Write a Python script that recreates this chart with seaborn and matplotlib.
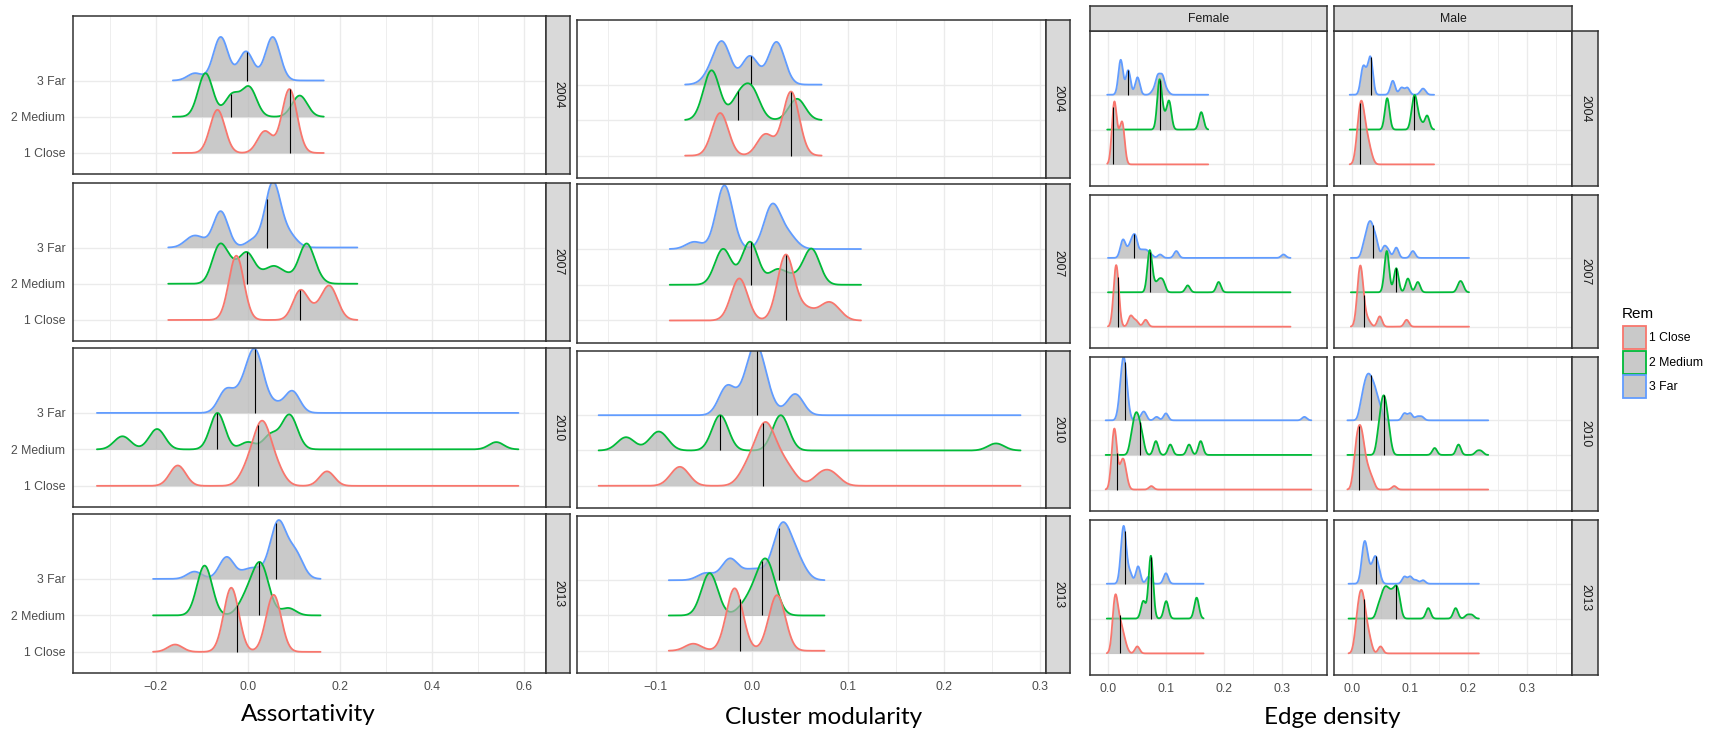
import numpy as np
import matplotlib
matplotlib.use("Agg")
import matplotlib.pyplot as plt
from matplotlib.patches import Rectangle
import seaborn as sns

# ----------------------------------------------------------------- data
GROUPS = ["1 Close", "2 Medium", "3 Far"]
YEARS = ["2004", "2007", "2010", "2013"]
SEXES = ["Female", "Male"]
LEGEND_TITLE = "Rem"
X_TITLES = ["Assortativity", "Cluster modularity", "Edge density"]

# samples per ridge: (value, number of networks with about that value)
ASSORT_2004 = {
    "1 Close": [(-0.068, 3), (-0.064, 3), (0.037, 3), (0.086, 2), (0.089, 2), (0.091, 2), (0.093, 2), (0.097, 1)],
    "2 Medium": [(-0.092, 6), (-0.034, 3), (0.003, 4), (0.108, 1), (0.113, 1), (0.117, 1)],
    "3 Far": [(-0.115, 1), (-0.059, 6), (-0.004, 4), (0.054, 6)],
}
ASSORT_2007 = {
    "1 Close": [(-0.030, 1), (-0.028, 1), (-0.026, 1), (-0.025, 3), (-0.024, 1), (-0.022, 1), (-0.020, 1),
                (0.114, 4), (0.145, 1), (0.172, 2), (0.178, 2), (0.190, 1)],
    "2 Medium": [(-0.062, 5), (-0.035, 2), (-0.002, 4), (0.030, 1), (0.057, 2), (0.085, 1), (0.126, 5), (0.145, 1)],
    "3 Far": [(-0.125, 1), (-0.105, 1), (-0.059, 5), (0.012, 1), (0.050, 4), (0.054, 1), (0.058, 4),
              (0.080, 1), (0.095, 1)],
}
ASSORT_2010 = {
    "1 Close": [(-0.160, 1), (-0.152, 1), (-0.145, 1), (-0.008, 1), (0.004, 1), (0.013, 1), (0.019, 1),
                (0.024, 1), (0.028, 1), (0.031, 2), (0.034, 1), (0.038, 1), (0.043, 1), (0.049, 1),
                (0.058, 1), (0.070, 1), (0.170, 1), (0.174, 1)],
    "2 Medium": [(-0.280, 1), (-0.265, 1), (-0.205, 1), (-0.197, 1), (-0.190, 1), (-0.066, 5), (0.000, 1),
                 (0.050, 2), (0.085, 2), (0.092, 2), (0.100, 1), (0.540, 1)],
    "3 Far": [(-0.050, 2), (-0.045, 1), (-0.022, 1), (-0.012, 1), (-0.003, 1), (0.004, 1), (0.010, 1),
              (0.014, 2), (0.017, 2), (0.020, 1), (0.026, 1), (0.034, 1), (0.060, 1), (0.095, 2), (0.100, 1)],
}
ASSORT_2013 = {
    "1 Close": [(-0.158, 1), (-0.042, 1), (-0.040, 1), (-0.038, 1), (-0.036, 3), (-0.034, 1), (-0.032, 1),
                (-0.030, 1), (0.050, 1), (0.053, 1), (0.055, 2), (0.057, 2), (0.059, 1), (0.062, 1)],
    "2 Medium": [(-0.100, 1), (-0.097, 1), (-0.095, 1), (-0.094, 1), (-0.093, 1), (-0.091, 1), (-0.088, 1),
                 (-0.010, 1), (0.000, 1), (0.010, 1), (0.018, 1), (0.024, 1), (0.028, 2), (0.031, 1),
                 (0.034, 1), (0.040, 1), (0.088, 1)],
    "3 Far": [(-0.116, 1), (-0.046, 3), (-0.002, 1), (0.022, 1), (0.055, 1), (0.060, 1), (0.063, 1),
              (0.066, 3), (0.070, 1), (0.075, 1), (0.090, 1), (0.100, 1), (0.105, 1), (0.110, 1)],
}
# vertical marker value per ridge, order 1 Close, 2 Medium, 3 Far
ASSORT_MARK = {"2004": [0.091, -0.037, -0.002], "2007": [0.114, -0.002, 0.041],
               "2010": [0.022, -0.066, 0.016], "2013": [-0.023, 0.025, 0.061]}

CLUSTER_2004 = {
    "1 Close": [(-0.033, 6), (0.014, 3), (0.0407, 9)],
    "2 Medium": [(-0.042, 7), (-0.0135, 3), (0.000, 4), (0.047, 3)],
    "3 Far": [(-0.044, 1), (-0.036, 1), (-0.030, 5), (-0.002, 4), (0.0256, 6)],
}
CLUSTER_2007 = {
    "1 Close": [(-0.017, 1), (-0.0124, 5), (0.035, 9), (0.050, 1), (0.060, 1), (0.076, 1), (0.080, 1), (0.088, 1)],
    "2 Medium": [(-0.030, 5), (-0.002, 6), (0.026, 2), (0.042, 1), (0.062, 5)],
    "3 Far": [(-0.060, 1), (-0.029, 8), (-0.025, 1), (0.021, 6), (0.035, 1), (0.040, 1)],
}
CLUSTER_2010 = {
    "1 Close": [(-0.080, 1), (-0.075, 1), (-0.070, 1), (-0.008, 1), (-0.003, 1), (0.002, 1), (0.006, 1),
                (0.009, 1), (0.012, 1), (0.014, 3), (0.016, 1), (0.019, 1), (0.022, 1), (0.026, 1),
                (0.030, 1), (0.035, 1), (0.042, 1), (0.070, 1), (0.078, 1), (0.086, 1)],
    "2 Medium": [(-0.134, 1), (-0.128, 1), (-0.102, 1), (-0.097, 1), (-0.092, 1), (-0.033, 5), (0.030, 5), (0.254, 1)],
    "3 Far": [(-0.026, 4), (-0.010, 1), (-0.005, 1), (-0.002, 1), (0.001, 1), (0.003, 1), (0.004, 3),
              (0.005, 1), (0.007, 1), (0.010, 1), (0.013, 1), (0.018, 1), (0.045, 3)],
}
CLUSTER_2013 = {
    "1 Close": [(-0.061, 1), (-0.021, 1), (-0.019, 2), (-0.018, 3), (-0.017, 2), (-0.015, 1),
                (0.024, 1), (0.025, 2), (0.026, 2), (0.027, 2), (0.029, 1)],
    "2 Medium": [(-0.044, 6), (-0.008, 1), (0.000, 1), (0.005, 1), (0.009, 1), (0.012, 1), (0.014, 1),
                 (0.015, 2), (0.017, 1), (0.019, 1), (0.022, 1)],
    "3 Far": [(-0.048, 1), (-0.023, 3), (-0.004, 1), (0.008, 1), (0.025, 1), (0.028, 1), (0.030, 1),
              (0.0314, 3), (0.034, 1), (0.037, 1), (0.042, 1), (0.047, 1), (0.050, 1)],
}
CLUSTER_MARK = {"2004": [0.0407, -0.014, -0.001], "2007": [0.035, -0.001, -0.007],
                "2010": [0.0114, -0.033, 0.0055], "2013": [-0.0128, 0.0107, 0.028]}

EDGE_F_2004 = {
    "1 Close": [(0.0107, 17), (0.018, 5), (0.025, 11)],
    "2 Medium": [(0.089, 14), (0.097, 3), (0.1055, 8), (0.161, 5)],
    "3 Far": [(0.022, 10), (0.035, 7), (0.051, 5), (0.078, 1), (0.086, 5), (0.094, 5), (0.102, 1)],
}
EDGE_M_2004 = {
    "1 Close": [(0.008, 3), (0.012, 7), (0.016, 9), (0.020, 7), (0.025, 5), (0.030, 3), (0.035, 1)],
    "2 Medium": [(0.0604, 9), (0.105, 6), (0.110, 6), (0.118, 2), (0.129, 4)],
    "3 Far": [(0.0185, 7), (0.025, 4), (0.032, 10), (0.070, 4), (0.085, 2), (0.095, 2), (0.120, 1), (0.124, 1)],
}
EDGE_F_2007 = {
    "1 Close": [(0.012, 7), (0.0145, 8), (0.017, 5), (0.039, 3), (0.046, 1), (0.050, 1), (0.065, 2)],
    "2 Medium": [(0.072, 12), (0.080, 2), (0.088, 3), (0.095, 3), (0.1376, 2), (0.191, 3)],
    "3 Far": [(0.024, 3), (0.028, 3), (0.036, 2), (0.042, 4), (0.048, 5), (0.058, 2), (0.066, 2),
              (0.074, 1), (0.090, 1), (0.118, 2), (0.303, 1)],
}
EDGE_M_2007 = {
    "1 Close": [(0.010, 5), (0.014, 11), (0.018, 6), (0.024, 2), (0.030, 1), (0.0476, 3), (0.0938, 2)],
    "2 Medium": [(0.0597, 12), (0.076, 7), (0.096, 4), (0.113, 3), (0.184, 2), (0.189, 2)],
    "3 Far": [(0.020, 3), (0.026, 5), (0.031, 6), (0.036, 5), (0.042, 4), (0.055, 3), (0.062, 2),
              (0.076, 3), (0.1045, 2)],
}
EDGE_F_2010 = {
    "1 Close": [(0.008, 5), (0.011, 10), (0.014, 5), (0.022, 4), (0.027, 6), (0.032, 2), (0.0748, 1)],
    "2 Medium": [(0.040, 3), (0.045, 6), (0.050, 7), (0.055, 5), (0.060, 3), (0.0827, 4), (0.1076, 3),
                 (0.140, 3), (0.160, 4)],
    "3 Far": [(0.020, 3), (0.024, 6), (0.027, 8), (0.030, 6), (0.034, 3), (0.058, 1), (0.063, 2),
              (0.084, 1), (0.100, 2), (0.339, 1)],
}
EDGE_M_2010 = {
    "1 Close": [(0.004, 4), (0.008, 7), (0.012, 8), (0.016, 8), (0.020, 6), (0.025, 4), (0.030, 3),
                (0.036, 2), (0.0725, 1)],
    "2 Medium": [(0.045, 4), (0.050, 8), (0.055, 10), (0.060, 7), (0.065, 3), (0.142, 2), (0.183, 3),
                 (0.215, 1), (0.222, 1)],
    "3 Far": [(0.015, 3), (0.020, 5), (0.025, 7), (0.030, 7), (0.035, 6), (0.040, 5), (0.045, 3),
              (0.050, 2), (0.090, 2), (0.100, 2), (0.112, 1), (0.120, 1)],
}
EDGE_F_2013 = {
    "1 Close": [(0.010, 6), (0.013, 9), (0.017, 5), (0.022, 5), (0.027, 3), (0.032, 1), (0.0506, 2)],
    "2 Medium": [(0.061, 5), (0.074, 18), (0.1005, 5), (0.153, 6)],
    "3 Far": [(0.024, 5), (0.027, 9), (0.030, 5), (0.038, 3), (0.052, 5), (0.070, 2), (0.100, 3)],
}
EDGE_M_2013 = {
    "1 Close": [(0.006, 3), (0.010, 6), (0.014, 8), (0.018, 8), (0.022, 6), (0.027, 4), (0.032, 2), (0.049, 2)],
    "2 Medium": [(0.045, 3), (0.052, 5), (0.058, 6), (0.064, 5), (0.070, 5), (0.076, 6), (0.081, 4),
                 (0.131, 3), (0.178, 3), (0.198, 1), (0.206, 1)],
    "3 Far": [(0.018, 4), (0.022, 8), (0.027, 4), (0.034, 3), (0.040, 6), (0.046, 3), (0.090, 2),
              (0.100, 2), (0.110, 1), (0.122, 1)],
}
EDGE_F_MARK = {"2004": [0.0093, 0.090, 0.035], "2007": [0.0171, 0.0734, 0.045],
               "2010": [0.0164, 0.0556, 0.0292], "2013": [0.020, 0.0748, 0.0292]}
EDGE_M_MARK = {"2004": [0.0142, 0.1066, 0.032], "2007": [0.0206, 0.076, 0.0355],
               "2010": [0.0121, 0.0547, 0.032], "2013": [0.0206, 0.076, 0.0405]}

ASSORT = dict(zip(YEARS, [ASSORT_2004, ASSORT_2007, ASSORT_2010, ASSORT_2013]))
CLUSTER = dict(zip(YEARS, [CLUSTER_2004, CLUSTER_2007, CLUSTER_2010, CLUSTER_2013]))
EDGE_F = dict(zip(YEARS, [EDGE_F_2004, EDGE_F_2007, EDGE_F_2010, EDGE_F_2013]))
EDGE_M = dict(zip(YEARS, [EDGE_M_2004, EDGE_M_2007, EDGE_M_2010, EDGE_M_2013]))

ASSORT_TICKS = [-0.2, 0.0, 0.2, 0.4, 0.6]
CLUSTER_TICKS = [-0.1, 0.0, 0.1, 0.2, 0.3]
EDGE_TICKS = [0.0, 0.1, 0.2, 0.3]

# ----------------------------------------------------------------- style
W, H = 1719, 735
REM_COLORS = ["#F8766D", "#00BA38", "#619CFF"]
FILL = "#B3B3B3"
GRID = "#EBEBEB"
DARK = "#333333"

sns.set_theme(style="white")
plt.rcParams["font.family"] = ["Liberation Sans", "DejaVu Sans"]

fig = plt.figure(figsize=(W / 100, H / 100), dpi=100)
fig.patch.set_facecolor("white")


def rect(x0, y0, x1, y1):
    return [x0 / W, 1 - y1 / H, (x1 - x0) / W, (y1 - y0) / H]


def heights(grid, pairs, bw, unit):
    v = np.array([p[0] for p in pairs], float)
    c = np.array([p[1] for p in pairs], float)
    z = (grid[:, None] - v[None, :]) / bw
    return unit * (np.exp(-0.5 * z * z) @ c)


def draw_ridges(ax, panel, marks, bw, unit):
    allv = [p[0] for g in GROUPS for p in panel[g]]
    grid = np.linspace(min(allv) - 3 * bw, max(allv) + 3 * bw, 512)
    for i in (2, 1, 0):
        g = GROUPS[i]
        base = i + 1
        z = 2 + (2 - i)
        h = heights(grid, panel[g], bw, unit)
        ax.fill_between(grid, base, base + h, facecolor=FILL, alpha=0.7, linewidth=0, zorder=z)
        sns.lineplot(x=grid, y=base + h, ax=ax, color=REM_COLORS[i], linewidth=1.3,
                     sort=False, estimator=None, zorder=z + 0.1, legend=False)
        m = marks[i]
        ax.plot([m, m], [base, base + np.interp(m, grid, h)], color="black",
                linewidth=0.8, zorder=z + 0.2, solid_capstyle="butt")


def fmt(t):
    s = f"{t:.1f}"
    return s.replace("-", "\u2212")


def style(ax, xlim, ylim, ticks, minor, show_x, ylabels, yticks):
    ax.set_xlim(xlim)
    ax.set_ylim(ylim)
    ax.set_xticks(ticks)
    ax.set_xticks(minor, minor=True)
    ax.set_yticks([1, 2, 3])
    ax.set_axisbelow(True)
    ax.grid(which="major", color=GRID, linewidth=1.0)
    ax.grid(which="minor", axis="x", color=GRID, linewidth=0.6)
    for s in ax.spines.values():
        s.set_color(DARK)
        s.set_linewidth(1.1)
    ax.tick_params(which="minor", length=0)
    ax.tick_params(axis="x", which="major", length=4 if show_x else 0, width=0.9, color=DARK,
                   labelbottom=show_x, labelcolor="#4D4D4D", labelsize=8.8, pad=2)
    ax.tick_params(axis="y", which="major", length=4 if yticks else 0, width=0.9, color=DARK,
                   labelleft=ylabels, labelcolor="#4D4D4D", labelsize=8.8, pad=1.5)
    if show_x:
        ax.set_xticklabels([fmt(t) for t in ticks])
    if ylabels:
        ax.set_yticklabels(GROUPS)
    ax.set_xlabel("")
    ax.set_ylabel("")
    ax.set_facecolor("white")


def strip(r, text, rot):
    s = fig.add_axes(r)
    s.set_facecolor("#D9D9D9")
    s.set_xticks([])
    s.set_yticks([])
    for sp in s.spines.values():
        sp.set_color(DARK)
        sp.set_linewidth(1.1)
    s.text(0.5, 0.5, text, rotation=rot, ha="center", va="center", fontsize=8.8,
           color="#1A1A1A", transform=s.transAxes)


# ----------------------------------------------------------------- Assortativity
rows_a = [(16, 174), (183, 341), (348, 507), (514, 673)]
for k, yr in enumerate(YEARS):
    y0, y1 = rows_a[k]
    ax = fig.add_axes(rect(73, y0, 546, y1))
    draw_ridges(ax, ASSORT[yr], ASSORT_MARK[yr], 0.016, 0.2)
    style(ax, (-0.380, 0.648), (0.42, 4.78), ASSORT_TICKS, [-0.3, -0.1, 0.1, 0.3, 0.5],
          k == 3, True, True)
    strip(rect(546, y0, 570, y1), yr, 270)

# ----------------------------------------------------------------- Cluster modularity
rows_c = [(20, 178), (184, 343), (351, 508), (516, 673)]
for k, yr in enumerate(YEARS):
    y0, y1 = rows_c[k]
    ax = fig.add_axes(rect(577, y0, 1046, y1))
    draw_ridges(ax, CLUSTER[yr], CLUSTER_MARK[yr], 0.0085, 0.2)
    style(ax, (-0.182, 0.306), (0.37, 4.82), CLUSTER_TICKS, [-0.15, -0.05, 0.05, 0.15, 0.25],
          k == 3, False, True)
    strip(rect(1046, y0, 1070, y1), yr, 270)

# ----------------------------------------------------------------- Edge density
rows_e = [(31, 186), (195, 348), (357, 511), (520, 675)]
cols_e = [(1090, 1327), (1334, 1572)]
for k, yr in enumerate(YEARS):
    y0, y1 = rows_e[k]
    for j, (sex, src, marks) in enumerate([("Female", EDGE_F, EDGE_F_MARK), ("Male", EDGE_M, EDGE_M_MARK)]):
        x0, x1 = cols_e[j]
        ax = fig.add_axes(rect(x0, y0, x1, y1))
        draw_ridges(ax, src[yr], marks[yr], 0.004, 0.1)
        style(ax, (-0.031, 0.378), (0.38, 4.83), EDGE_TICKS, [0.05, 0.15, 0.25, 0.35],
              k == 3, False, j == 0)
    strip(rect(1572, y0, 1598, y1), yr, 270)
for j, sex in enumerate(SEXES):
    x0, x1 = cols_e[j]
    strip(rect(x0, 6, x1, 31), sex, 0)

# ----------------------------------------------------------------- axis titles
title_font = ["Lato", "DejaVu Sans"]
fig.text(308 / W, 1 - 721 / H, X_TITLES[0], ha="center", va="baseline", fontsize=17.5,
         family=title_font, color="black")
fig.text(824 / W, 1 - 724 / H, X_TITLES[1], ha="center", va="baseline", fontsize=17.5,
         family=title_font, color="black")
fig.text(1332 / W, 1 - 724 / H, X_TITLES[2], ha="center", va="baseline", fontsize=17.5,
         family=title_font, color="black")

# ----------------------------------------------------------------- legend
fig.text(1622 / W, 1 - 318 / H, LEGEND_TITLE, ha="left", va="baseline", fontsize=11, color="black")
for i, g in enumerate(GROUPS):
    ky = 326 + 24.5 * i
    fig.add_artist(Rectangle((1623 / W, 1 - (ky + 23) / H), 23 / W, 23 / H, transform=fig.transFigure,
                             facecolor=(0.702, 0.702, 0.702, 0.7), edgecolor=REM_COLORS[i], linewidth=1.3))
    fig.text(1649 / W, 1 - (ky + 12) / H, g, ha="left", va="center", fontsize=8.8, color="black")

fig.savefig("out.png", dpi=100, facecolor="white")
